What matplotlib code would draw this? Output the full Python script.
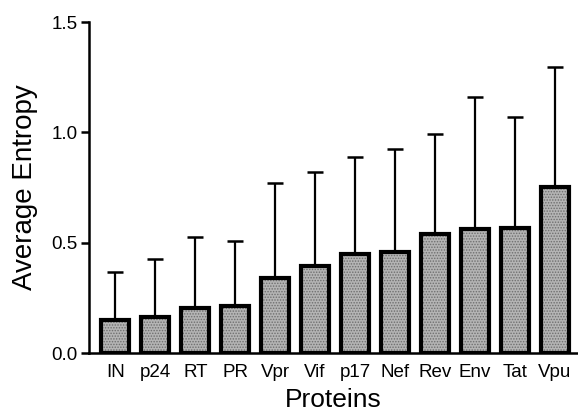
import matplotlib.pyplot as plt
import numpy as np

plt.rcParams['font.family'] = ['Liberation Sans', 'DejaVu Sans']
plt.rcParams['hatch.linewidth'] = 0.7

proteins = ['IN', 'p24', 'RT', 'PR', 'Vpr', 'Vif', 'p17', 'Nef', 'Rev', 'Env', 'Tat', 'Vpu']
entropy = [0.150, 0.163, 0.205, 0.214, 0.339, 0.395, 0.450, 0.457, 0.541, 0.561, 0.566, 0.754]
sd = [0.220, 0.263, 0.320, 0.294, 0.430, 0.425, 0.440, 0.468, 0.450, 0.600, 0.506, 0.542]

x = np.arange(len(proteins))

fig = plt.figure(figsize=(5.78, 4.16), dpi=100)
ax = fig.add_axes([0.154, 0.151, 0.846, 0.796])

# error bars only upward, behind the bars
ax.errorbar(x, entropy, yerr=[np.zeros(len(sd)), sd], fmt='none',
            ecolor='black', elinewidth=1.6, capsize=5.5, capthick=1.8, zorder=1)
# stippled fill
ax.bar(x, entropy, width=0.7, color='#b4b4b4', hatch='......',
       edgecolor='#6e6e6e', linewidth=0, zorder=2)
# thick black outline
ax.bar(x, entropy, width=0.7, fill=False, edgecolor='black', linewidth=3, zorder=3)

ax.set_xlim(-0.66, 11.58)
ax.set_ylim(0, 1.5)
ax.set_yticks([0.0, 0.5, 1.0, 1.5])
ax.set_yticklabels(['0.0', '0.5', '1.0', '1.5'])
ax.set_xticks(x)
ax.set_xticklabels(proteins)

for s in ['top', 'right']:
    ax.spines[s].set_visible(False)
ax.spines['left'].set_linewidth(1.8)
ax.spines['bottom'].set_linewidth(1.8)
ax.tick_params(axis='y', length=6, width=1.8, labelsize=13.5, pad=2)
ax.tick_params(axis='x', length=0, labelsize=13.5, pad=8)

ax.set_ylabel('Average Entropy', fontsize=20, labelpad=10)
ax.set_xlabel('Proteins', fontsize=19, labelpad=5)

fig.savefig('out.png', dpi=100)
